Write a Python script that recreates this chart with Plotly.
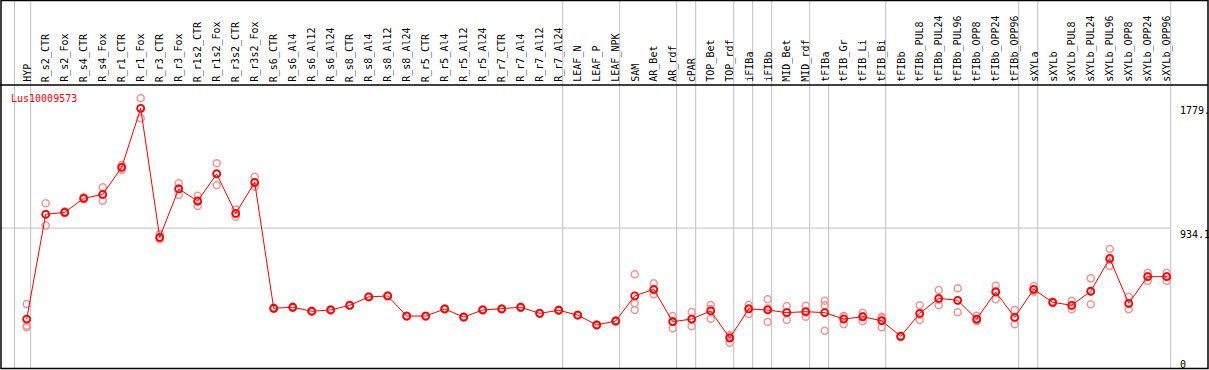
import plotly.graph_objects as go

# ---------------- data ----------------
gene = "Lus10009573"
categories = [
    "HYP", "R_s2_CTR", "R_s2_Fox", "R_s4_CTR", "R_s4_Fox", "R_r1_CTR", "R_r1_Fox",
    "R_r3_CTR", "R_r3_Fox", "R_r1s2_CTR", "R_r1s2_Fox", "R_r3s2_CTR", "R_r3s2_Fox",
    "R_s6_CTR", "R_s6_Al4", "R_s6_Al12", "R_s6_Al24", "R_s8_CTR", "R_s8_Al4",
    "R_s8_Al12", "R_s8_Al24", "R_r5_CTR", "R_r5_Al4", "R_r5_Al12", "R_r5_Al24",
    "R_r7_CTR", "R_r7_Al4", "R_r7_Al12", "R_r7_Al24", "LEAF_N", "LEAF_P", "LEAF_NPK",
    "SAM", "AR_Bet", "AR_rdf", "cPAR", "TOP_Bet", "TOP_rdf", "iFIBa", "iFIBb",
    "MID_Bet", "MID_rdf", "tFIBa", "tFIB_Gr", "tFIB_Li", "tFIB_Bi", "tFIBb",
    "tFIBb_PUL8", "tFIBb_PUL24", "tFIBb_PUL96", "tFIBb_OPP8", "tFIBb_OPP24", "tFIBb_OPP96",
    "sXYLa", "sXYLb", "sXYLb_PUL8", "sXYLb_PUL24", "sXYLb_PUL96", "sXYLb_OPP8",
    "sXYLb_OPP24", "sXYLb_OPP96",
]
mean_values = [
    292, 1031, 1045, 1144, 1172, 1363, 1779,
    869, 1210, 1125, 1316, 1038, 1257,
    368, 375, 347, 356, 389, 448,
    455, 313, 313, 363, 306, 356,
    363, 375, 332, 354, 320, 250, 278,
    455, 502, 273, 292, 349, 158, 363, 356,
    337, 344, 337, 292, 308, 280, 170,
    332, 438, 424, 292, 483, 304,
    502, 410, 389, 488, 720, 403,
    591, 591,
]
rep1 = [
    398, 1109, 1052, 1152, 1222, 1380, 1850,
    892, 1250, 1163, 1391, 1066, 1297,
    372, 378, 350, 359, 392, 451,
    458, 316, 316, 366, 309, 359,
    366, 378, 335, 357, 323, 253, 281,
    608, 544, 313, 342, 391, 179, 393, 431,
    384, 386, 421, 313, 337, 308, 176,
    389, 497, 509, 316, 527, 356,
    525, 416, 421, 579, 786, 450,
    619, 619,
]
rep2 = [
    245, 953, 1040, 1137, 1127, 1345, 1709,
    855, 1167, 1090, 1236, 1014, 1226,
    364, 372, 344, 353, 386, 445,
    452, 310, 310, 360, 303, 353,
    360, 372, 329, 351, 317, 247, 275,
    403, 467, 227, 241, 294, 125, 328, 271,
    285, 308, 389, 255, 276, 234, 164,
    285, 389, 340, 276, 431, 255,
    485, 404, 361, 396, 666, 361,
    560, 560,
]
rep3 = [
    234, 1031, 1043, 1143, 1167, 1364, 1778,
    860, 1213, 1122, 1321, 1034, 1248,
    368, 375, 347, 356, 389, 448,
    455, 313, 313, 363, 306, 356,
    363, 375, 332, 354, 320, 250, 278,
    356, 495, 279, 293, 362, 170, 368, 366,
    342, 338, 210, 308, 311, 298, 170,
    322, 428, 423, 284, 491, 301,
    496, 410, 385, 489, 708, 398,
    594, 594,
]
y_tick_values = [1779, 934.1, 0]
y_tick_labels = ["1779.", "934.1", "0"]
grid_value = 934.1
# group separators: drawn after these categories
group_ends = ["HYP", "R_r7_Al24", "LEAF_NPK", "AR_rdf", "cPAR", "TOP_rdf", "iFIBa",
              "iFIBb", "MID_rdf", "tFIBa", "tFIB_Bi", "tFIBb_OPP96", "sXYLa", "sXYLb_OPP96"]
plot_only_ends = ["tFIBa"]   # separator not drawn through the header

# ---------------- layout constants ----------------
W, H = 1209, 370
COL0, COLW = 26.7, 19.0          # pixel centre of first column, column pitch
ZERO_PX, PX_PER_UNIT = 360.4, 0.14167
HEADER_PX = 85
PLOT_RIGHT_PX = 1170.5
FONT = "DejaVu Sans Mono"

def py(p):  # pixel row -> paper y
    return 1 - p / H

def px(p):  # pixel column -> paper x
    return p / W

idx = list(range(len(categories)))

fig = go.Figure()

# replicates
fig.add_trace(go.Scatter(
    x=idx * 3, y=rep1 + rep2 + rep3, mode="markers",
    marker=dict(symbol="circle-open", size=7, color="rgb(240,150,150)",
                line=dict(width=1.5, color="rgb(240,150,150)")),
    hoverinfo="skip", showlegend=False,
))
# mean
fig.add_trace(go.Scatter(
    x=idx, y=mean_values, mode="lines+markers",
    line=dict(color="#ff0000", width=1),
    marker=dict(symbol="circle-open", size=7, color="#ff0000",
                line=dict(width=1.8, color="#ff0000")),
    text=categories, showlegend=False,
))

shapes = []
gray = "#c0c0c0"
shapes.append(dict(type="line", xref="paper", yref="y", x0=0, x1=px(PLOT_RIGHT_PX),
                   y0=grid_value, y1=grid_value, line=dict(color=gray, width=1), layer="below"))
off = 4.0 / COLW
seps = [(-1 + off + 0.15, False)]
for name in group_ends:
    seps.append((categories.index(name) + off, name in plot_only_ends))
for xv, plot_only in seps:
    shapes.append(dict(type="line", xref="x", yref="paper", x0=xv, x1=xv,
                       y0=py(368.5), y1=py(HEADER_PX) if plot_only else 1,
                       line=dict(color=gray, width=1), layer="below"))
shapes.append(dict(type="line", xref="paper", yref="paper", x0=0, x1=px(1208),
                   y0=py(HEADER_PX), y1=py(HEADER_PX), line=dict(color="black", width=1.5)))
shapes.append(dict(type="rect", xref="paper", yref="paper", x0=px(1), x1=px(1208),
                   y0=py(368.5), y1=py(0.5), line=dict(color="black", width=1.5)))

annotations = []
for i, c in enumerate(categories):
    annotations.append(dict(x=i, y=py(HEADER_PX - 1), xref="x", yref="paper",
                            text=c, textangle=-90, showarrow=False,
                            xanchor="center", yanchor="bottom",
                            font=dict(family=FONT, size=10, color="black")))
tick_tops = [103, 227, 357]
for lab, top in zip(y_tick_labels, tick_tops):
    annotations.append(dict(x=px(1178), y=py(top), xref="paper", yref="paper",
                            text=lab, showarrow=False, xanchor="left", yanchor="top",
                            font=dict(family=FONT, size=10, color="black")))
annotations.append(dict(x=px(9), y=py(91), xref="paper", yref="paper", text=gene,
                        showarrow=False, xanchor="left", yanchor="top",
                        font=dict(family=FONT, size=10, color="#ff0000")))

fig.update_layout(
    width=W, height=H,
    margin=dict(l=0, r=0, t=0, b=0, pad=0),
    paper_bgcolor="white", plot_bgcolor="white",
    xaxis=dict(range=[-COL0 / COLW, (W - COL0) / COLW], visible=False, fixedrange=True),
    yaxis=dict(range=[(ZERO_PX - H) / PX_PER_UNIT, ZERO_PX / PX_PER_UNIT],
               visible=False, fixedrange=True),
    shapes=shapes, annotations=annotations,
    showlegend=False,
)

fig.write_html("out.html", config={"displayModeBar": False})

# remove the default page margin so the figure fills the window exactly
with open("out.html", encoding="utf-8") as f:
    html = f.read()
html = html.replace("<body>", '<body style="margin:0;padding:0;overflow:hidden">', 1)
html = html.replace("<head>", '<head><style>html,body{margin:0;padding:0;overflow:hidden}</style>', 1)
with open("out.html", "w", encoding="utf-8") as f:
    f.write(html)
